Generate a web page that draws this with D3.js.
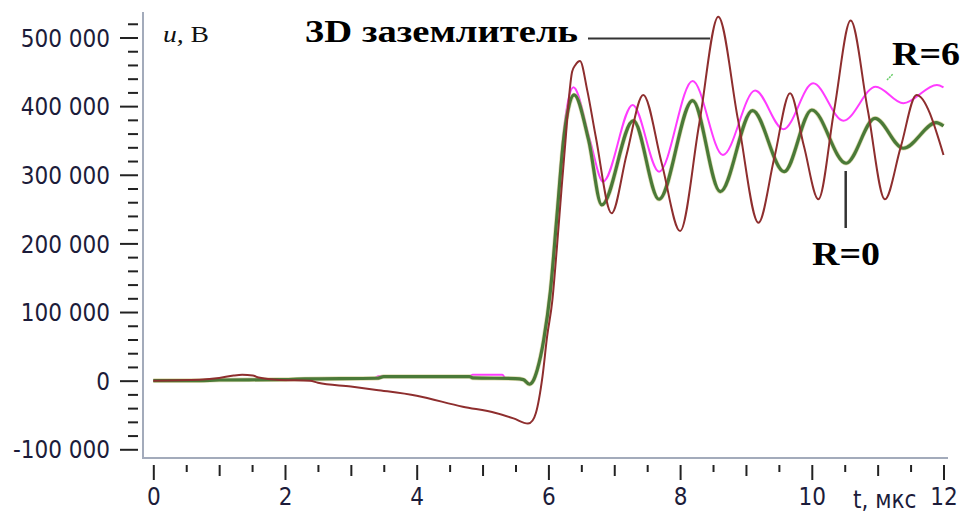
<!DOCTYPE html>
<html>
<head>
<meta charset="utf-8">
<script src="https://cdn.jsdelivr.net/npm/d3@7"></script>
<style>
html,body{margin:0;padding:0;background:#fff;}
svg{display:block;}
.tl{font-family:'DejaVu Sans Condensed','DejaVu Sans',sans-serif;font-stretch:condensed;font-size:24px;fill:#1c1c3a;}
.ser{font-family:'Liberation Serif','Times New Roman',serif;}
</style>
</head>
<body>
<svg id="c" width="961" height="513"></svg>
<script>
// ---- data ----
const tBrown = [0, 0.7, 1.0, 1.22, 1.35, 1.51, 1.6, 1.92, 2.38, 2.5, 3.0, 3.39, 4.0, 4.7, 5.2, 5.47, 5.69, 5.76, 5.81, 5.91, 5.98, 6.06, 6.13, 6.2, 6.26, 6.31, 6.36, 6.41, 6.48, 6.59, 6.72, 6.96, 7.19, 7.44, 7.72, 8.0, 8.29, 8.58, 8.88, 9.19, 9.43, 9.67, 9.88, 10.1, 10.34, 10.59, 10.85, 11.11, 11.35, 11.59, 12.0];
const uBrown = [0, 1500, 4000, 7500, 8500, 7500, 4500, 1000, 0, -3000, -8500, -13500, -22000, -38000, -47000, -55000, -62500, -58000, -47000, 6000, 64000, 117000, 195000, 280000, 350000, 410000, 450000, 460000, 465800, 423000, 355100, 243900, 330300, 416300, 317200, 218100, 374000, 530400, 379900, 230200, 324300, 418800, 341800, 264300, 394400, 524600, 394400, 264300, 340300, 416300, 328900];

const tR0 = [0, 0.7, 1.0, 1.9, 2.3, 3.4, 3.5, 4.8, 4.85, 5.5, 5.62, 5.71, 5.77, 5.83, 5.93, 6.03, 6.13, 6.23, 6.3, 6.39, 6.61, 6.81, 7.29, 7.68, 8.19, 8.61, 9.1, 9.58, 10.0, 10.52, 10.96, 11.39, 11.89, 12.0];
const uR0 = [0, 0, 1000, 1500, 2500, 3500, 6000, 6000, 4000, 3000, 1500, -5200, 0, 15600, 60000, 130000, 240000, 350700, 395000, 416300, 350700, 256000, 378800, 264300, 408000, 275400, 393400, 304500, 394400, 316800, 382300, 338600, 375900, 371100];

const tR6 = [0, 0.7, 1.0, 1.9, 2.3, 3.35, 3.42, 4.8, 4.85, 5.3, 5.35, 5.5, 5.62, 5.71, 5.77, 5.83, 5.93, 6.03, 6.13, 6.23, 6.3, 6.38, 6.63, 6.83, 7.28, 7.68, 8.19, 8.65, 9.14, 9.57, 10.02, 10.48, 10.97, 11.39, 11.9, 12.0];
const uR6 = [0, 0, 1000, 1500, 2500, 3500, 6500, 6500, 8500, 8500, 3500, 3000, 1500, -4000, 1000, 17000, 62000, 133000, 245000, 360000, 408000, 427500, 350700, 290000, 401700, 304500, 436700, 328900, 422600, 366300, 433300, 378800, 428400, 404200, 430900, 427500];

const yTickValues = [-100000, 0, 100000, 200000, 300000, 400000, 500000];
const yTickLabels = ["-100 000", "0", "100 000", "200 000", "300 000", "400 000", "500 000"];
const yMinorValues = [-80000,-60000,-40000,-20000,20000,40000,60000,80000,120000,140000,160000,180000,220000,240000,260000,280000,320000,340000,360000,380000,420000,440000,460000,480000,520000];
const xTickValues = [0, 2, 4, 6, 8, 10, 12];
const xTickLabels = ["0", "2", "4", "6", "8", "10", "12"];
const xMidValues = [1, 3, 5, 7, 9, 11];
const xMinorValues = [0.5,1.5,2.5,3.5,4.5,5.5,6.5,7.5,8.5,9.5,10.5,11.5];

// ---- scales ----
const svg = d3.select("#c");
const x = d3.scaleLinear().domain([0, 12]).range([153.3, 943.5]);
const y = d3.scaleLinear().domain([-100000, 500000]).range([449.3, 37.5]);

// axis frame lines
svg.append("line").attr("x1",143).attr("x2",143).attr("y1",12).attr("y2",459)
  .attr("stroke","#a3abbb").attr("stroke-width",2);
svg.append("line").attr("x1",142).attr("x2",948).attr("y1",458).attr("y2",458)
  .attr("stroke","#a3abbb").attr("stroke-width",2);

// y axis
const yAx = svg.append("g").attr("transform","translate(138,0)")
  .call(d3.axisLeft(y).tickValues(yTickValues).tickSize(18).tickPadding(10)
    .tickFormat((d,i)=>yTickLabels[i]));
const yMin = svg.append("g").attr("transform","translate(138,0)")
  .call(d3.axisLeft(y).tickValues(yMinorValues).tickSize(10).tickFormat(""));
// x axis
const xAx = svg.append("g").attr("transform","translate(0,465)")
  .call(d3.axisBottom(x).tickValues(xTickValues).tickSize(15).tickPadding(8)
    .tickFormat((d,i)=>xTickLabels[i]));
const xMid = svg.append("g").attr("transform","translate(0,465)")
  .call(d3.axisBottom(x).tickValues(xMidValues).tickSize(11).tickFormat(""));
const xMin = svg.append("g").attr("transform","translate(0,465)")
  .call(d3.axisBottom(x).tickValues(xMinorValues).tickSize(7).tickFormat(""));

[yAx,yMin,xAx,xMid,xMin].forEach(g=>{
  g.select(".domain").remove();
  g.selectAll(".tick line").attr("stroke","#222").attr("stroke-width",2);
  g.selectAll(".tick text").attr("class","tl").attr("font-size",null).attr("font-family",null).attr("fill",null);
});
yAx.selectAll(".tick text").attr("dy","0.36em");

// x axis title
svg.append("text").attr("class","tl").attr("x",853).attr("y",508).text("t, мкс");

// y axis title
const yt = svg.append("text").attr("class","ser").attr("x",163).attr("y",41.5)
  .attr("font-size",24).attr("fill","#111")
  .attr("textLength",46).attr("lengthAdjust","spacingAndGlyphs");
yt.append("tspan").attr("font-style","italic").text("u,");
yt.append("tspan").text(" B");

// ---- lines ----
const line = (ts,us)=>d3.line().curve(d3.curveMonotoneX)
  .x((d,i)=>x(ts[i])).y((d,i)=>y(us[i]))(ts);

svg.append("path").attr("d",line(tR6,uR6)).attr("fill","none")
  .attr("stroke","#ff3cff").attr("stroke-width",2);
svg.append("path").attr("d",line(tR0,uR0)).attr("fill","none")
  .attr("stroke","#c9c27a").attr("stroke-width",4.6).attr("stroke-opacity",0.55);
svg.append("path").attr("d",line(tR0,uR0)).attr("fill","none")
  .attr("stroke","#4a7a38").attr("stroke-width",3.2);
svg.append("path").attr("d",line(tBrown,uBrown)).attr("fill","none")
  .attr("stroke","#8e2e2e").attr("stroke-width",2);

// ---- annotations ----
svg.append("text").attr("class","ser").attr("x",305).attr("y",42)
  .attr("font-size",32).attr("font-weight","bold").attr("fill","#000")
  .attr("textLength",273).attr("lengthAdjust","spacingAndGlyphs").text("3D заземлитель");
svg.append("line").attr("x1",588).attr("x2",710).attr("y1",38.5).attr("y2",38.5)
  .attr("stroke","#333").attr("stroke-width",2);

svg.append("text").attr("class","ser").attr("x",892).attr("y",65)
  .attr("font-size",33).attr("font-weight","bold").attr("fill","#000")
  .attr("textLength",68).attr("lengthAdjust","spacingAndGlyphs").text("R=6");
svg.append("line").attr("x1",887).attr("x2",893).attr("y1",80).attr("y2",74)
  .attr("stroke","#66cc66").attr("stroke-width",1.5).attr("stroke-dasharray","2,1");

svg.append("text").attr("class","ser").attr("x",812).attr("y",265)
  .attr("font-size",33).attr("font-weight","bold").attr("fill","#000")
  .attr("textLength",68).attr("lengthAdjust","spacingAndGlyphs").text("R=0");
svg.append("line").attr("x1",845.7).attr("x2",845.7).attr("y1",171).attr("y2",228)
  .attr("stroke","#333").attr("stroke-width",2.5);
</script>
</body>
</html>
